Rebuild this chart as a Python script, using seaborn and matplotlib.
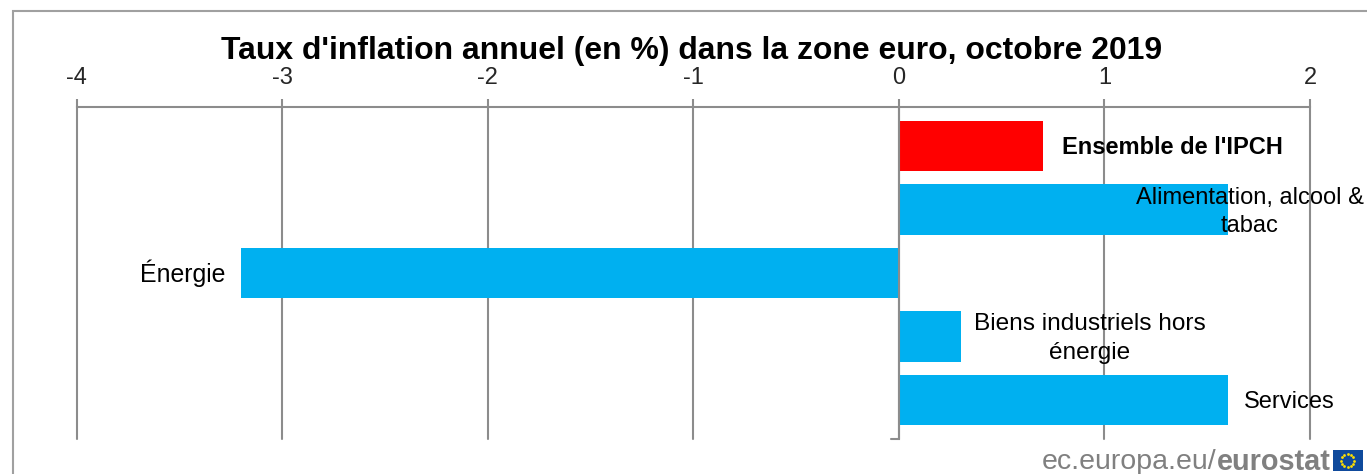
import numpy as np
import pandas as pd
import matplotlib
matplotlib.use('Agg')
import matplotlib.pyplot as plt
from matplotlib.patches import Rectangle
import seaborn as sns

sns.set_style("white")
plt.rcParams['font.family'] = ['Liberation Sans', 'DejaVu Sans']

# Data
categories = ["Ensemble de l'IPCH", "Alimentation, alcool &\ntabac", "Énergie",
              "Biens industriels hors\nénergie", "Services"]
values = [0.7, 1.6, -3.2, 0.3, 1.6]
bar_colors = ['#ff0000', '#00b0f0', '#00b0f0', '#00b0f0', '#00b0f0']
x_ticks = [-4, -3, -2, -1, 0, 1, 2]

W, H = 1367, 474
grey = '#8c8c8c'

df = pd.DataFrame({'cat': categories, 'val': values})

fig = plt.figure(figsize=(W / 100, H / 100), dpi=100)
ax = fig.add_axes([76.5 / W, 1 - 439 / H, (1310 - 76.5) / W, (439 - 107) / H])

sns.barplot(data=df, y='cat', x='val', hue='cat', palette=bar_colors, legend=False,
            orient='h', width=0.8, saturation=1, linewidth=0, ax=ax, zorder=3)

ax.set_xlim(-4, 2)
ax.set_ylim(4.613, -0.613)
ax.set_xlabel('')
ax.set_ylabel('')
ax.set_yticks([])

# Value axis on top
ax.xaxis.tick_top()
ax.set_xticks(x_ticks)
ax.set_xticklabels([str(t) for t in x_ticks], fontsize=17)
ax.tick_params(axis='x', length=6, width=1.5, color=grey, pad=7, top=True, bottom=False)
ax.grid(True, axis='x', color=grey, linewidth=1.5, zorder=1)
ax.set_axisbelow(True)
for gl in ax.get_xgridlines():
	gl.set_clip_on(False)

for s in ['left', 'right', 'bottom']:
	ax.spines[s].set_visible(False)
ax.spines['top'].set_color(grey)
ax.spines['top'].set_linewidth(1.5)

# Category axis line sits at zero, with its small closing tick
ax.plot([-0.04, 0, 0], [4.613, 4.613, -0.613], color=grey, lw=1.5, zorder=4, clip_on=False,
        solid_joinstyle='miter')

# Category labels next to the bars
label_x = [1.33, 1.707, -3.485, 0.929, 1.897]
label_size = [17, 17, 17.9, 17.6, 17]
label_weight = ['bold', 'normal', 'normal', 'normal', 'normal']
label_shift = [0.03, 0.04, 0.0, 0.03, 0.03]
for i, c in enumerate(categories):
	ax.text(label_x[i], i + label_shift[i], c, ha='center', va='center', fontsize=label_size[i], color='black',
	        fontweight=label_weight[i], zorder=5, linespacing=1.4, clip_on=False)

fig.text(692 / W, 1 - 51 / H, "Taux d'inflation annuel (en %) dans la zone euro, octobre 2019",
         ha='center', va='center', fontsize=22.95, fontweight='bold', color='black')

# Outer frame
fig.add_artist(Rectangle((13 / W, -0.1), 1360 / W, 0.1 + 1 - 11 / H, transform=fig.transFigure,
                         fill=False, edgecolor='#a0a0a0', linewidth=1.5))

# Source logo
fig.text(1042 / W, 1 - 462 / H, 'ec.europa.eu/', ha='left', va='center', fontsize=20.5, color='#808080')
fig.text(1217 / W, 1 - 462 / H, 'eurostat', ha='left', va='center', fontsize=20.8, fontweight='bold', color='#808080')
fig.add_artist(Rectangle((1333 / W, 1 - 471 / H), 29.5 / W, 21 / H, transform=fig.transFigure,
                         facecolor='#0f4a9c', edgecolor='none'))
angles = np.arange(12) * np.pi / 6
fig.add_artist(plt.Line2D((1347.7 + 6.5 * np.cos(angles)) / W, (1 - 460.5 / H) + 6.5 * np.sin(angles) / H,
                          transform=fig.transFigure, linestyle='none', marker='o', markersize=2,
                          color='#ffe000', markeredgewidth=0))

fig.savefig('out.png', dpi=100)
